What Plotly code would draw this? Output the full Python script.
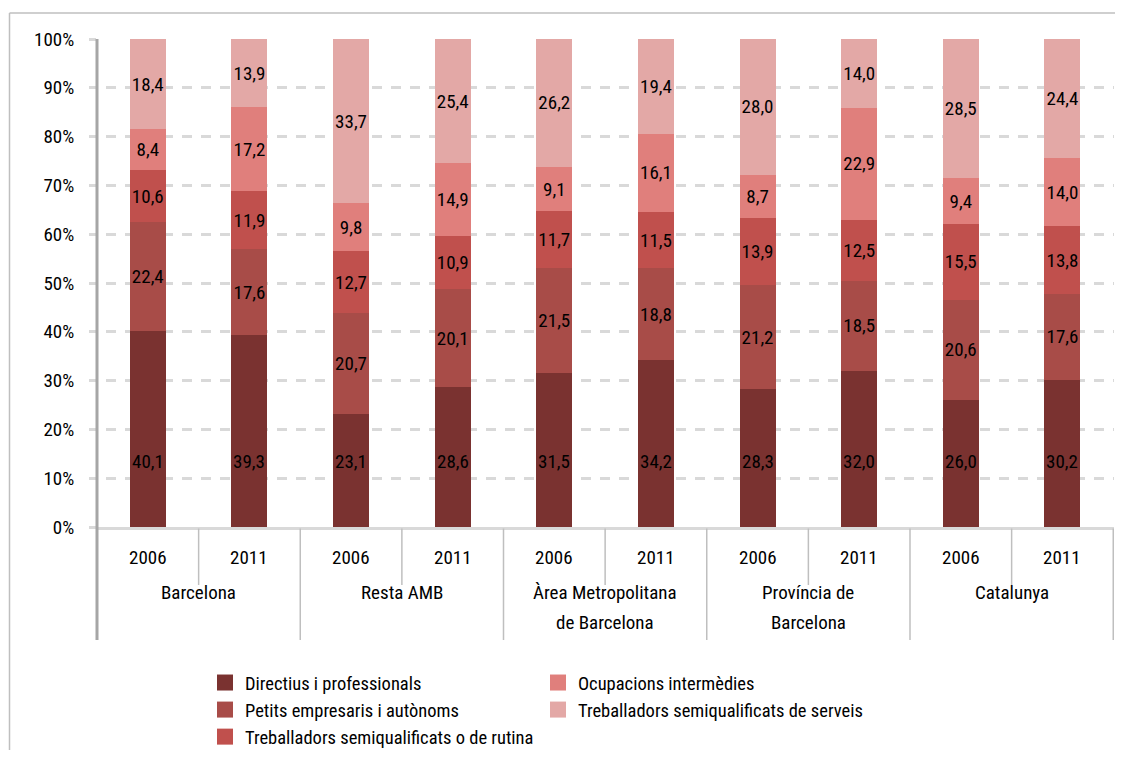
import plotly.graph_objects as go

groups = ["Barcelona", "Resta AMB", "Àrea Metropolitana<br>de Barcelona", "Província de<br>Barcelona", "Catalunya"]
years = ["2006", "2011"]

series_names = [
    "Directius i professionals",
    "Petits empresaris i autònoms",
    "Treballadors semiqualificats o de rutina",
    "Ocupacions intermèdies",
    "Treballadors semiqualificats de serveis",
]
directius = [40.1, 39.3, 23.1, 28.6, 31.5, 34.2, 28.3, 32.0, 26.0, 30.2]
petits = [22.4, 17.6, 20.7, 20.1, 21.5, 18.8, 21.2, 18.5, 20.6, 17.6]
rutina = [10.6, 11.9, 12.7, 10.9, 11.7, 11.5, 13.9, 12.5, 15.5, 13.8]
ocupacions = [8.4, 17.2, 9.8, 14.9, 9.1, 16.1, 8.7, 22.9, 9.4, 14.0]
serveis = [18.4, 13.9, 33.7, 25.4, 26.2, 19.4, 28.0, 14.0, 28.5, 24.4]
y_ticks = [0, 10, 20, 30, 40, 50, 60, 70, 80, 90, 100]

colors = ["#7A3230", "#A84C48", "#C0504D", "#E07F7C", "#E3A8A6"]
legend_of = ["legend", "legend", "legend", "legend2", "legend2"]

FONT = "Roboto Condensed, Liberation Sans Narrow, Arial Narrow, sans-serif"
FS = 19

xg = [g for g in groups for _ in years]
xy = [y for _ in groups for y in years]

def fmt(v):
    return f"{v:.1f}".replace(".", ",")

# the page body has an 8px margin: figure pixel = page pixel - 8
OFF = 8
W, H = 1123 - OFF, 758 - 2 * OFF
PL, PR, PT, PB = 97, 1114, 39, 527   # plot area in page pixels
px_w = PR - PL
px_h = PB - PT
def pxx(p):
    return (p - PL) / px_w
def pxy(p):
    return (PB - p) / px_h

fig = go.Figure()
all_series = [directius, petits, rutina, ocupacions, serveis]
for i, (name, vals) in enumerate(zip(series_names, all_series)):
    fig.add_trace(go.Bar(
        x=[xg, xy], y=vals, name=name,
        marker=dict(color=colors[i], line=dict(width=0)),
        text=None if i == 0 else [fmt(v) for v in vals],
        textposition="inside", insidetextanchor="middle",
        textangle=0, constraintext="none",
        textfont=dict(color="black", size=FS, family=FONT),
        showlegend=False,
        hoverinfo="skip",
    ))
# legend entries with larger square swatches
for i, name in enumerate(series_names):
    fig.add_trace(go.Scatter(
        x=[None], y=[None], mode="markers", name=name,
        marker=dict(symbol="square", size=16, color=colors[i], line=dict(width=0)),
        legend=legend_of[i], showlegend=True, hoverinfo="skip",
    ))

# bottom-segment labels placed at a fixed height, like the original
for idx, v in enumerate(directius):
    fig.add_annotation(x=idx, y=13.5, xref="x", yref="y", text=fmt(v),
                       showarrow=False, font=dict(color="black", size=FS, family=FONT))

# category labels
for idx, yr in enumerate(xy):
    fig.add_annotation(x=idx, y=pxy(557), xref="x", yref="paper", text=yr,
                       showarrow=False, yanchor="middle",
                       font=dict(color="black", size=FS, family=FONT))
for g, name in enumerate(groups):
    for k, line in enumerate(name.split("<br>")):
        fig.add_annotation(x=2 * g + 0.5, y=pxy(592 + 30 * k), xref="x", yref="paper",
                           text=line, showarrow=False, yanchor="middle",
                           font=dict(color="black", size=FS, family=FONT))

shapes = [
    dict(type="line", xref="paper", yref="paper", x0=0, x1=0, y0=pxy(640), y1=1,
         line=dict(color="#A6A6A6", width=3)),
    dict(type="line", xref="paper", yref="paper", x0=pxx(9.5), x1=pxx(1135), y0=pxy(13), y1=pxy(13),
         line=dict(color="#BFBFBF", width=1.5)),
    dict(type="line", xref="paper", yref="paper", x0=pxx(9.5), x1=pxx(9.5), y0=pxy(13), y1=pxy(780),
         line=dict(color="#BFBFBF", width=1.5)),
]
for g in range(len(groups)):
    shapes.append(dict(type="line", xref="x", yref="paper", x0=2 * g + 0.5, x1=2 * g + 0.5,
                       y0=pxy(585), y1=pxy(528.5), line=dict(color="#BFBFBF", width=1.5)))
for g in range(1, len(groups) + 1):
    shapes.append(dict(type="line", xref="x", yref="paper", x0=2 * g - 0.5, x1=2 * g - 0.5,
                       y0=pxy(640), y1=pxy(528.5), line=dict(color="#BFBFBF", width=1.5)))

legend_common = dict(
    orientation="v", xanchor="left", yanchor="top",
    font=dict(size=18.5, family=FONT), traceorder="normal",
    itemclick=False, bgcolor="rgba(0,0,0,0)", tracegroupgap=0,
)

fig.update_layout(
    barmode="stack",
    bargap=0.646,
    width=W, height=H,
    margin=dict(l=PL - OFF, r=W - (PR - OFF), t=PT - OFF, b=H - (PB - OFF), autoexpand=False),
    paper_bgcolor="white", plot_bgcolor="white",
    font=dict(family=FONT, size=FS, color="black"),
    uniformtext=dict(minsize=FS, mode="show"),
    shapes=shapes,
    showlegend=True,
    legend=dict(x=pxx(205), y=pxy(664), **legend_common),
    legend2=dict(x=pxx(538), y=pxy(664), **legend_common),
    xaxis=dict(
        type="multicategory", automargin=False,
        showline=True, linecolor="#D9D9D9", linewidth=3,
        ticks="", showticklabels=False, showdividers=False,
        showgrid=False,
    ),
    yaxis=dict(
        automargin=False,
        range=[0, 100], tickvals=y_ticks, ticktext=[f"{t}%" for t in y_ticks],
        showgrid=True, gridcolor="#D9D9D9", gridwidth=3, griddash="0px,9px,10px,0px",
        ticks="outside", ticklen=7, tickcolor="#D9D9D9", tickwidth=3,
        ticklabelstandoff=11,
        showline=False, zeroline=False,
        tickfont=dict(size=FS, family=FONT),
    ),
)

fig.write_html("out.html")
